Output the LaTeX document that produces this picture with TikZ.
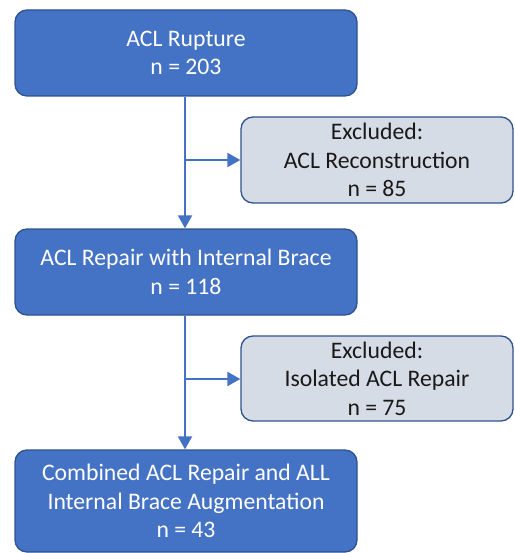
\documentclass[tikz,border=0pt]{standalone}
\usepackage{fontspec}
\setmainfont{Carlito}
\usetikzlibrary{arrows.meta}
\definecolor{mainblue}{HTML}{4472C4}
\definecolor{edgeblue}{HTML}{2F528F}
\definecolor{lightbox}{HTML}{D6DCE5}
\begin{document}
\begin{tikzpicture}[x=1pt,y=-1pt,
  every node/.style={font=\fontsize{23.7}{28.5}\selectfont, align=center, inner sep=0pt},
  mainbox/.style={draw=edgeblue, line width=1.3pt, fill=mainblue, text=white, rounded corners=12pt, minimum width=342pt},
  exbox/.style={draw=edgeblue, line width=1.3pt, fill=lightbox, text=black!90, rounded corners=12pt, minimum width=272pt, minimum height=86pt},
  link/.style={draw=mainblue, line width=2pt},
  arr/.style={link, -{Triangle[length=13pt,width=14pt]}}]
\useasboundingbox (0,0) rectangle (514,553);
\node[mainbox, minimum height=86pt] (a) at (186,53) {ACL Rupture\\n = 203};
\node[exbox] (e1) at (377,160) {Excluded:\\ACL Reconstruction\\n = 85};
\node[mainbox, minimum height=86pt] (b) at (186,272) {ACL Repair with Internal Brace\\n = 118};
\node[exbox, minimum height=85pt] (e2) at (377,378.5) {Excluded:\\Isolated ACL Repair\\n = 75};
\node[mainbox, minimum height=102pt] (c) at (186,501) {Combined ACL Repair and ALL\\Internal Brace Augmentation\\n = 43};
\coordinate (j1) at (185,160);
\coordinate (j2) at (185,379);
\draw[arr] (a.south -| j1) -- (b.north -| j1);
\draw[arr] (j1) -- (e1.west);
\draw[arr] (b.south -| j2) -- (c.north -| j2);
\draw[arr] (j2) -- (e2.west |- j2);
\end{tikzpicture}
\end{document}
